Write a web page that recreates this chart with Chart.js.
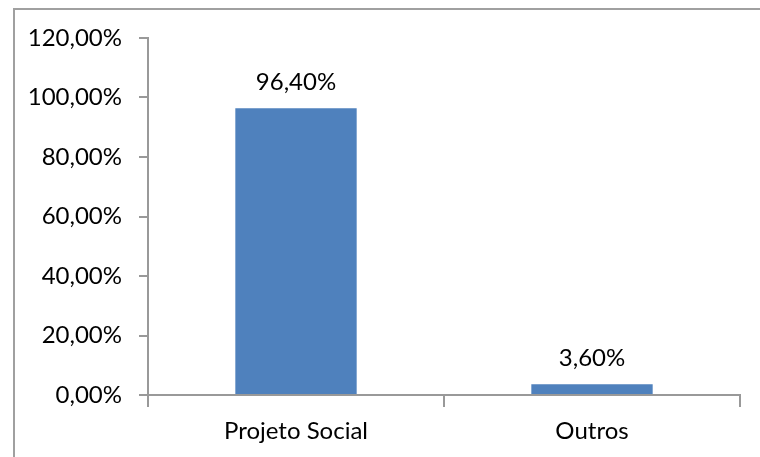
<!DOCTYPE html>
<html>
<head>
<meta charset="utf-8">
<script src="https://cdn.jsdelivr.net/npm/chart.js@4/dist/chart.umd.min.js"></script>
<style>
  html, body { margin: 0; padding: 0; background: #fff; }
  #wrap { position: relative; width: 760px; height: 457px; overflow: hidden; }
  #frame { position: absolute; left: 13px; top: 8px; width: 800px; height: 500px;
           border-left: 2px solid #a0a0a0; border-top: 2px solid #a0a0a0; box-sizing: border-box; }
  canvas { position: absolute; left: 0; top: 0; }
</style>
</head>
<body>
<div id="wrap">
  <div id="frame"></div>
  <canvas id="c" width="760" height="457"></canvas>
</div>
<script>
// Categories and their shares (percent)
const categories = ['Projeto Social', 'Outros'];
const shares = [96.40, 3.60];
const yTicks = [0, 20, 40, 60, 80, 100, 120];

const FONT = 'Lato, "Open Sans", sans-serif';
const AXIS = '#999999';

const fmt = v => v.toFixed(2).replace('.', ',') + '%';

// Value labels above each bar
const valueLabels = {
  id: 'valueLabels',
  afterDatasetsDraw(chart) {
    const ctx = chart.ctx;
    const meta = chart.getDatasetMeta(0);
    ctx.save();
    ctx.font = '24px ' + FONT;
    ctx.fillStyle = '#000';
    ctx.textAlign = 'center';
    ctx.textBaseline = 'alphabetic';
    meta.data.forEach((bar, i) => {
      ctx.fillText(fmt(shares[i]), bar.x, bar.y - 18);
    });
    ctx.restore();
  }
};

new Chart(document.getElementById('c'), {
  type: 'bar',
  data: {
    labels: categories,
    datasets: [{
      data: shares,
      backgroundColor: '#4F81BD',
      borderWidth: 0,
      categoryPercentage: 1,
      barPercentage: 0.41
    }]
  },
  options: {
    responsive: false,
    animation: false,
    layout: { padding: { left: 0, right: 20, top: 38, bottom: 0 } },
    plugins: { legend: { display: false }, tooltip: { enabled: false } },
    scales: {
      x: {
        offset: true,
        grid: {
          offset: true,
          drawOnChartArea: false,
          drawTicks: true,
          tickLength: 12,
          color: AXIS,
          lineWidth: 2
        },
        border: { color: AXIS, width: 2 },
        ticks: {
          color: '#000',
          font: { family: FONT, size: 24 },
          padding: 10,
          maxRotation: 0
        },
        afterFit(scale) { scale.height = 62; }
      },
      y: {
        min: 0,
        max: 120,
        afterBuildTicks(scale) { scale.ticks = yTicks.map(v => ({ value: v })); },
        grid: {
          drawOnChartArea: false,
          drawTicks: true,
          tickLength: 9,
          color: AXIS,
          lineWidth: 2
        },
        border: { color: AXIS, width: 2 },
        ticks: {
          color: '#000',
          font: { family: FONT, size: 24 },
          padding: 17,
          callback: v => fmt(v)
        },
        afterFit(scale) { scale.width = 148; }
      }
    }
  },
  plugins: [valueLabels]
});
</script>
</body>
</html>
